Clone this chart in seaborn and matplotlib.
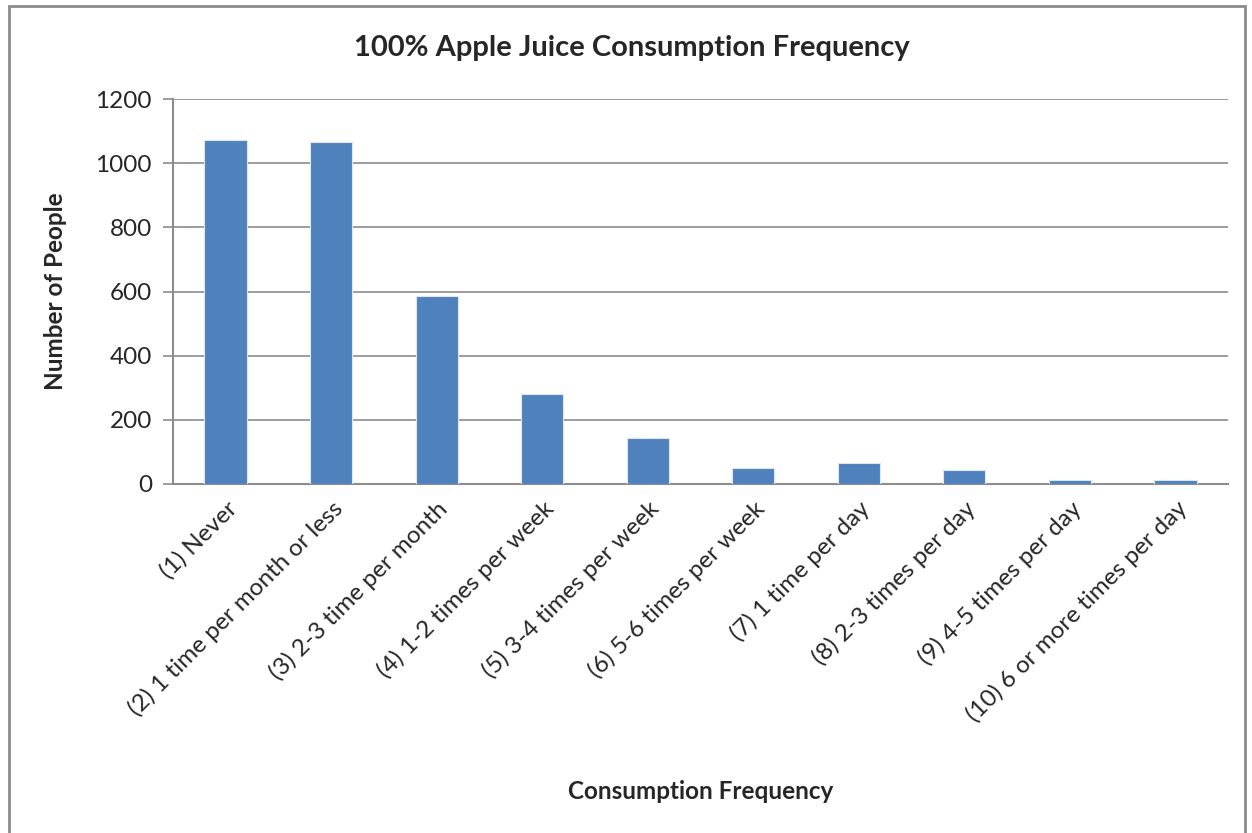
import matplotlib
matplotlib.use("Agg")
import matplotlib.pyplot as plt
import seaborn as sns
import pandas as pd
from matplotlib.patches import Rectangle

categories = [
    "(1) Never",
    "(2) 1 time per month or less",
    "(3) 2-3 time per month",
    "(4) 1-2 times per week",
    "(5) 3-4 times per week",
    "(6) 5-6 times per week",
    "(7) 1 time per day",
    "(8) 2-3 times per day",
    "(9) 4-5 times per day",
    "(10) 6 or more times per day",
]
people = [1074, 1065, 586, 279, 143, 51, 64, 43, 12, 12]

df = pd.DataFrame({"freq": categories, "people": people})

sns.set_style("white")
plt.rcParams["font.family"] = ["Lato", "DejaVu Sans"]

fig = plt.figure(figsize=(12.52, 8.33), dpi=100)
ax = fig.add_axes([0.138, 0.419, 0.843, 0.462])

sns.barplot(x="freq", y="people", data=df, color="#4F81BD", width=0.4,
            edgecolor="#dce6f2", linewidth=0.8, saturation=1, ax=ax, zorder=3)

ax.set_ylim(0, 1200)
ax.set_yticks(range(0, 1201, 200))
ax.set_xlim(-0.5, len(categories) - 0.5)
ax.grid(axis="y", color="#8c8c8c", linewidth=1.2, zorder=0)
ax.set_axisbelow(True)

for s in ["top", "right"]:
    ax.spines[s].set_visible(False)
for s in ["left", "bottom"]:
    ax.spines[s].set_color("#8c8c8c")
    ax.spines[s].set_linewidth(1.5)

ax.tick_params(axis="y", left=True, length=7, width=1.2, color="#8c8c8c",
               labelsize=17.5, pad=8)
ax.tick_params(axis="x", bottom=False, labelsize=17.5, pad=6)
plt.setp(ax.get_xticklabels(), rotation=45, ha="right", rotation_mode="anchor")

ax.set_xlabel("Consumption Frequency", fontsize=17.5, fontweight="bold")
ax.xaxis.set_label_coords(0.5, -0.77)
ax.set_ylabel("Number of People", fontsize=17.5, fontweight="bold")
ax.yaxis.set_label_coords(-0.1, 0.5)

fig.text(0.505, 0.942, "100% Apple Juice Consumption Frequency",
         ha="center", va="center", fontsize=21, fontweight="bold")

# outer chart frame
fig.patches.append(Rectangle((9 / 1252, -0.01), 1236 / 1252, 1.0 - 6 / 833 + 0.01,
                             transform=fig.transFigure, fill=False,
                             edgecolor="#8c8c8c", linewidth=2))

fig.savefig("out.png", dpi=100)
